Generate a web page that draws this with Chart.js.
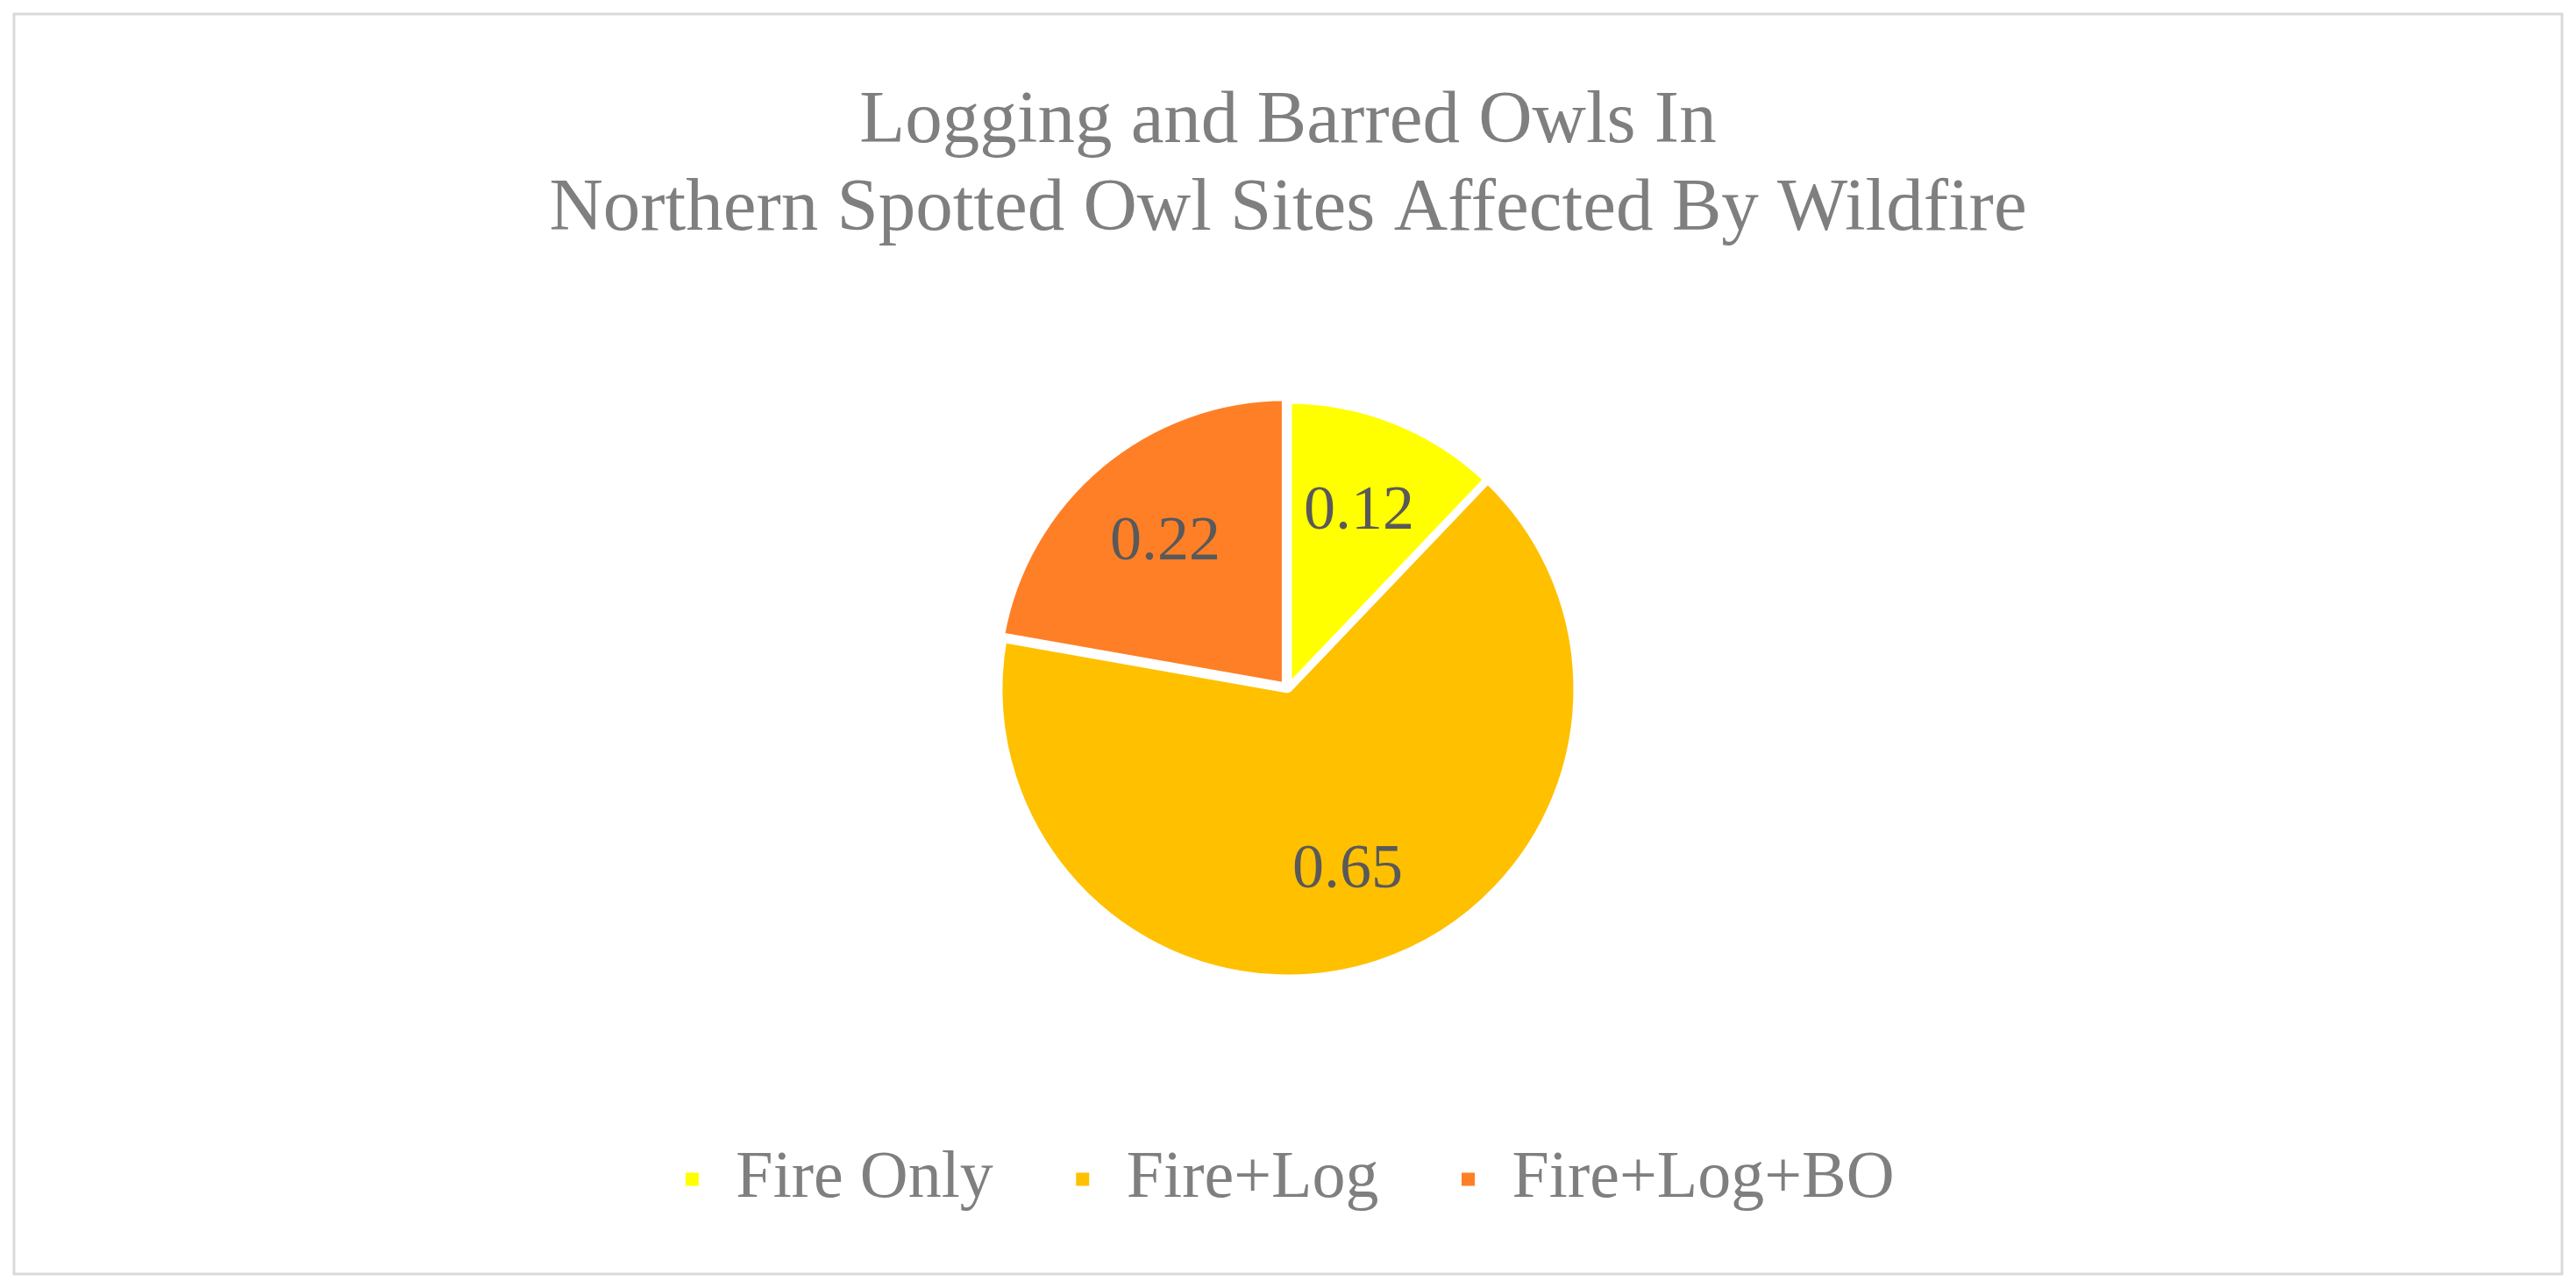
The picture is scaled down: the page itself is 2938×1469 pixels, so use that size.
<!DOCTYPE html>
<html><head><meta charset="utf-8">
<script src="https://cdn.jsdelivr.net/npm/chart.js@4"></script>
<style>html,body{margin:0;padding:0;background:#fff}#w{width:2938px;height:1469px}</style>
</head><body><div id="w"><canvas id="c"></canvas></div>
<script>
const categories = ["Fire Only", "Fire+Log", "Fire+Log+BO"];
const values = [0.12, 0.65, 0.22];
const colors = ["#FFFF00", "#FFC000", "#FF7F27"];
const titleLines = ["Logging and Barred Owls In", "Northern Spotted Owl Sites Affected By Wildfire"];

const frame = {id:'frame', beforeDraw(ch){const c=ch.ctx;c.save();c.fillStyle='#fff';c.fillRect(0,0,ch.width,ch.height);c.strokeStyle='#d9d9d9';c.lineWidth=3;c.strokeRect(16,16,ch.width-32,ch.height-32);c.restore();}};
const labels = {id:'lbl', afterDatasetsDraw(ch){const c=ch.ctx;c.save();c.font='72px "Liberation Serif"';c.fillStyle='#595959';c.textAlign='center';c.textBaseline='middle';
 ch.getDatasetMeta(0).data.forEach((a,i)=>{const p=a.getProps(['x','y','startAngle','endAngle','outerRadius']);const m=(p.startAngle+p.endAngle)/2;const r=p.outerRadius*0.66;
 c.fillText(values[i].toFixed(2),p.x+Math.cos(m)*r,p.y+Math.sin(m)*r);});c.restore();}};

new Chart(document.getElementById('c'),{type:'pie',
 data:{labels:categories,datasets:[{data:values,backgroundColor:colors,borderColor:'#fff',borderWidth:9,offset:[0,0,16],radius:330}]},
 options:{responsive:true,maintainAspectRatio:false,animation:false,devicePixelRatio:1,
  layout:{padding:{top:0,bottom:76,left:0,right:0}},
  plugins:{tooltip:{enabled:false},
   title:{display:true,text:titleLines,color:'#7f7f7f',font:{family:'Liberation Serif',size:85,weight:'normal',lineHeight:1.17},padding:{top:90,bottom:66}},
   legend:{position:'bottom',labels:{color:'#7f7f7f',font:{family:'Liberation Serif',size:76},boxWidth:24,boxHeight:24,padding:90}}}},
 plugins:[frame,labels]});
</script></body></html>
